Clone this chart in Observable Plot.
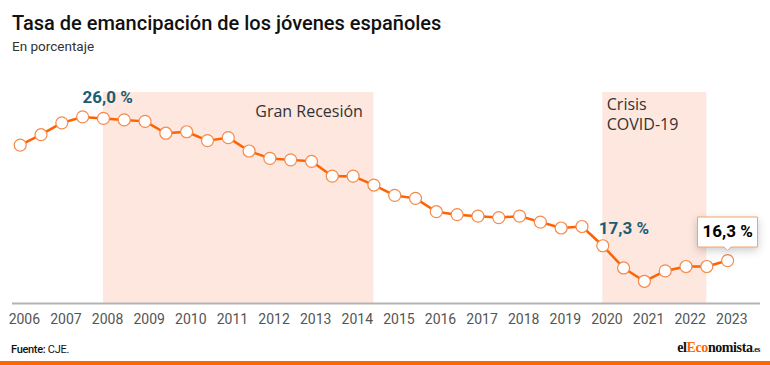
<!DOCTYPE html>
<html>
<head>
<meta charset="utf-8">
<script src="https://cdn.jsdelivr.net/npm/d3@7"></script>
<script src="https://cdn.jsdelivr.net/npm/@observablehq/plot@0.6"></script>
<style>
  body { margin: 0; background: white; }
  #wrap { position: relative; width: 770px; height: 365px; overflow: hidden; font-family: Roboto, sans-serif; background: white; }
  .abs { position: absolute; white-space: nowrap; }
</style>
</head>
<body>
<div id="wrap">
  <div class="abs" style="left:12px;top:11px;font-size:20px;font-weight:500;color:#111;">Tasa de emancipación de los jóvenes españoles</div>
  <div class="abs" style="left:12px;top:38px;font-size:13.5px;color:#333;">En porcentaje</div>
  <div class="abs" id="chart" style="left:0;top:60px;"></div>
  <div class="abs" style="left:11px;top:343px;font-size:11px;color:#111;letter-spacing:-0.3px;"><span style="font-weight:500">Fuente:</span> CJE.</div>
  <div class="abs" style="right:10px;top:340px;font-family:'Liberation Serif',serif;font-weight:bold;font-size:14px;letter-spacing:-0.4px;color:#111;">el<span style="color:#ff6600">Eco</span>nomista<span style="font-size:8px">.es</span></div>
  <div class="abs" style="left:0;top:361px;width:770px;height:4px;background:#ff6600;"></div>
</div>
<script>
// Semesters (2006 S1 ... 2023 S1)
const periods = [2006, 2006.5, 2007, 2007.5, 2008, 2008.5, 2009, 2009.5, 2010, 2010.5,
                 2011, 2011.5, 2012, 2012.5, 2013, 2013.5, 2014, 2014.5, 2015, 2015.5,
                 2016, 2016.5, 2017, 2017.5, 2018, 2018.5, 2019, 2019.5, 2020, 2020.5,
                 2021, 2021.5, 2022, 2022.5, 2023];
const values = [24.1, 24.8, 25.6, 26.0, 25.9, 25.8, 25.7, 24.9, 25.0, 24.4,
                24.6, 23.7, 23.2, 23.1, 23.0, 22.0, 22.0, 21.4, 20.7, 20.5,
                19.6, 19.4, 19.3, 19.2, 19.3, 18.9, 18.5, 18.6, 17.3, 15.8,
                14.9, 15.6, 15.9, 15.9, 16.3];
const years = [2006, 2007, 2008, 2009, 2010, 2011, 2012, 2013, 2014, 2015,
               2016, 2017, 2018, 2019, 2020, 2021, 2022, 2023];
const shadeStart = [2008, 2020];
const shadeEnd = [2014.5, 2022.5];
const shadeLabels = ["Gran Recesión", "Crisis\nCOVID-19"];
const peakLabel = "26,0 %";
const covidLabel = "17,3 %";
const lastLabel = "16,3 %";

const data = periods.map((t, i) => ({t, v: values[i]}));
const shades = shadeStart.map((s, i) => ({x1: s, x2: shadeEnd[i], label: shadeLabels[i]}));
const yMin = 13.4, yMax = 27.65;

const chart = Plot.plot({
  width: 770,
  height: 280,
  marginLeft: 12,
  marginRight: 10,
  marginTop: 32,
  marginBottom: 37,
  x: {domain: [2005.815, 2023.79], axis: null},
  y: {domain: [yMin, yMax], axis: null},
  style: {fontFamily: "Roboto, sans-serif", background: "white", overflow: "visible"},
  marks: [
    Plot.rect(shades, {x1: "x1", x2: "x2", fill: "#fee7df"}),
    Plot.ruleY([yMin], {stroke: "#b3b3b3", strokeWidth: 2}),
    Plot.text(years, {x: d => d + 0.1, text: d => String(d), frameAnchor: "bottom", lineAnchor: "top", dy: 11, fontSize: 14, fill: "#555"}),
    Plot.text([shades[0]], {x: "x2", text: "label", frameAnchor: "top", lineAnchor: "middle", textAnchor: "end", dx: -11, dy: 19, fontFamily: "Open Sans", fontSize: 16, fill: "#333"}),
    Plot.text([shades[1]], {x: "x1", text: "label", frameAnchor: "top", lineAnchor: "top", textAnchor: "start", dx: 4, dy: 3, lineHeight: 1.25, fontFamily: "Open Sans", fontSize: 16, fill: "#333"}),
    Plot.line(data, {x: "t", y: "v", stroke: "#ff6200", strokeWidth: 2.5}),
    Plot.dot(data, {x: "t", y: "v", r: 6, fill: "white", stroke: "#f7894a", strokeWidth: 1.2}),
    Plot.text([data[3]], {x: "t", y: "v", text: [peakLabel], dx: 25, dy: -19, fontSize: 17, fontWeight: "bold", fill: "#1b5d73"}),
    Plot.text([data[28]], {x: "t", y: "v", text: [covidLabel], textAnchor: "start", dx: -4, dy: -17, fontSize: 17, fontWeight: "bold", fill: "#1b5d73"}),
    Plot.tip([data[34]], {x: "t", y: "v", title: [lastLabel], anchor: "bottom", dy: -10, fill: "white", stroke: "#f5a46e", fontSize: 17, fontWeight: "bold", textPadding: 5, pointerSize: 7, filter: null})
  ]
});
document.getElementById("chart").appendChild(chart);
</script>
</body>
</html>
